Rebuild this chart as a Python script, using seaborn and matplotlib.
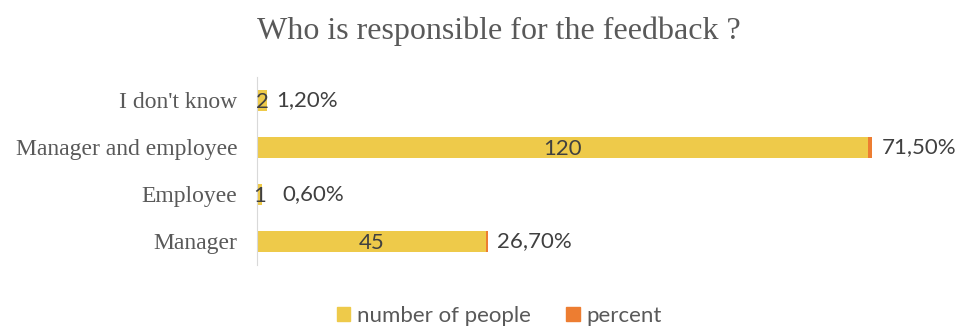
import matplotlib.pyplot as plt
import pandas as pd
import seaborn as sns
from matplotlib.patches import Patch

answers = ["I don't know", 'Manager and employee', 'Employee', 'Manager']
people = [2, 120, 1, 45]
percent = [0.012, 0.715, 0.006, 0.267]
percent_labels = ['1,20%', '71,50%', '0,60%', '26,70%']

df = pd.DataFrame({'answer': answers, 'people': people, 'percent': percent})
df['total'] = df['people'] + df['percent']

yellow = '#EECA4A'
orange = '#ED7D31'
grey = '#595959'

sns.set_style('white')
fig = plt.figure(figsize=(9.6, 3.27), dpi=100)
ax = fig.add_axes([0.2677, 0.19, 0.69, 0.575])

# orange on the full length first, yellow drawn over it -> stacked look
sns.barplot(data=df, y='answer', x='total', orient='h', color=orange,
            width=0.45, saturation=1, linewidth=0, ax=ax)
sns.barplot(data=df, y='answer', x='people', orient='h', color=yellow,
            width=0.45, saturation=1, linewidth=0, ax=ax)

ax.set_xlim(0, 130)
ax.set_ylim(3.5, -0.5)
ax.set_xlabel('')
ax.set_ylabel('')
ax.set_xticks([])

for s in ['top', 'right', 'bottom']:
    ax.spines[s].set_visible(False)
ax.spines['left'].set_color('#D9D9D9')

ax.set_yticks(range(len(answers)))
ax.set_yticklabels(answers, fontfamily='Liberation Serif', fontsize=17, color=grey)
ax.set_yticks([-0.5, 0.5, 1.5, 2.5, 3.5], minor=True)
ax.tick_params(axis='y', which='major', length=0, pad=14)
ax.tick_params(axis='y', which='minor', length=5, color='#D9D9D9', direction='out')

for i, (n, t, lab) in enumerate(zip(people, df['total'], percent_labels)):
    ax.text(n / 2, i + 0.03, str(n), ha='center', va='center', fontsize=16,
            fontfamily='Lato', color='#404040')
    off = 4.0 if n == 1 else 1.8
    ax.text(t + off, i, lab, ha='left', va='center', fontsize=16,
            fontfamily='Lato', color='#404040')

fig.suptitle('Who is responsible for the feedback ?', x=0.52, y=0.95,
             fontfamily='Liberation Serif', fontsize=23, color=grey)

handles = [Patch(color=yellow, label='number of people'),
           Patch(color=orange, label='percent')]
fig.legend(handles=handles, loc='center', bbox_to_anchor=(0.52, 0.035), ncol=2,
           frameon=False, prop={'family': 'Lato', 'size': 16},
           handlelength=0.6, handleheight=0.6, handletextpad=0.3, columnspacing=1.6,
           labelcolor=grey)

fig.savefig('out.png', dpi=100)
